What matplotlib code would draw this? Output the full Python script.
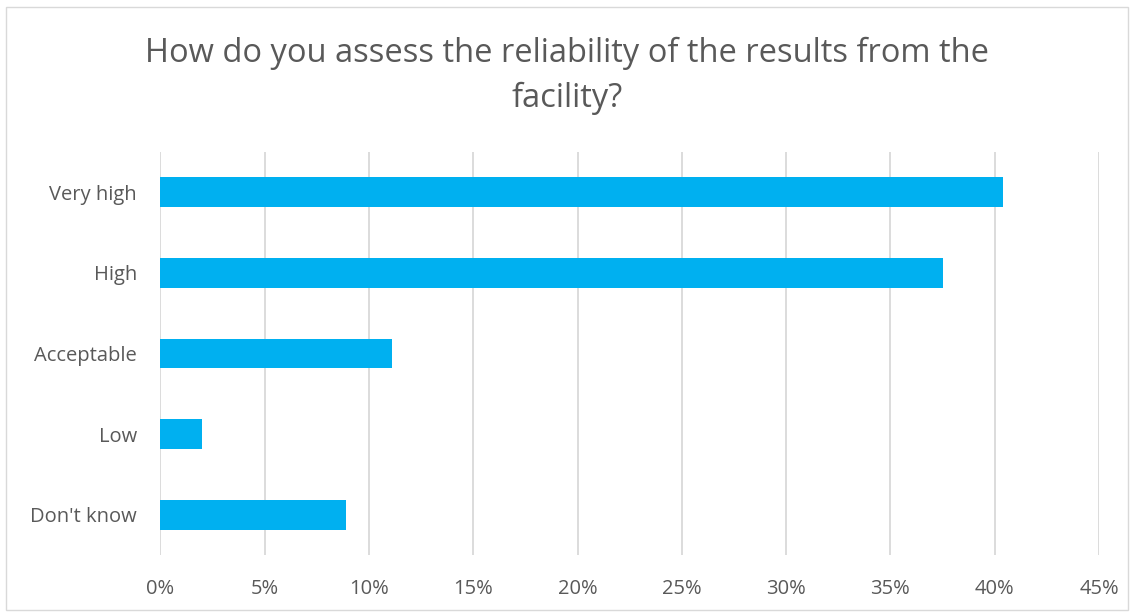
import matplotlib.pyplot as plt
from matplotlib.patches import Rectangle
from matplotlib.ticker import FuncFormatter

# Survey answers, top to bottom
categories = ['Very high', 'High', 'Acceptable', 'Low', "Don't know"]
shares = [40.4, 37.5, 11.1, 2.0, 8.9]
x_ticks = [0, 5, 10, 15, 20, 25, 30, 35, 40, 45]

text_grey = '#595959'
bar_blue = '#00b0f0'

plt.rcParams['font.family'] = ['Open Sans', 'DejaVu Sans']

fig = plt.figure(figsize=(11.34, 6.13), dpi=100)
ax = fig.add_axes([0.1415, 0.0946, 0.9691 - 0.1415, 0.752 - 0.0946])

y = list(range(len(categories)))
ax.barh(y, shares, height=0.37, color=bar_blue, zorder=3)
ax.set_ylim(len(categories) - 0.5, -0.5)
ax.set_xlim(0, 45)
ax.set_xticks(x_ticks)
ax.xaxis.set_major_formatter(FuncFormatter(lambda v, _: f'{v:.0f}%'))
ax.set_yticks(y)
ax.set_yticklabels(categories)

ax.grid(axis='x', color='#d9d9d9', linewidth=1.3, zorder=0)
for s in ax.spines.values():
    s.set_visible(False)
ax.tick_params(axis='both', length=0, labelsize=14.5, colors=text_grey)
ax.tick_params(axis='x', pad=17)
ax.tick_params(axis='y', pad=17)

fig.text(0.5, 0.94, 'How do you assess the reliability of the results from the\nfacility?',
         ha='center', va='top', fontsize=23.5, color=text_grey, linespacing=1.45)

# chart frame
fig.patches.append(Rectangle((6 / 1134, 3 / 613), 1 - 12 / 1134, 1 - 10 / 613,
                             transform=fig.transFigure, fill=False,
                             edgecolor='#d9d9d9', linewidth=1))

fig.savefig('out.png', dpi=100)
